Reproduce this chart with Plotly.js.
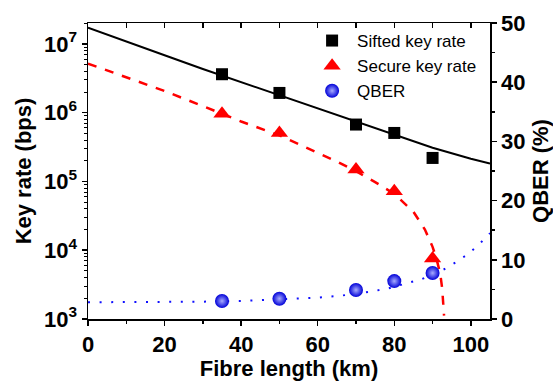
<!DOCTYPE html>
<html><head><meta charset="utf-8">
<script src="https://cdn.plot.ly/plotly-3.0.1.min.js"></script>
<style>html,body{margin:0;padding:0;background:#fff}#chart{width:553px;height:381px}</style>
</head><body><div id="chart"></div>
<script>
// Measured points
const pointLengths = [35, 50, 70, 80, 90];
const siftedRate = [3.63e6, 1.94e6, 6.73e5, 5.08e5, 2.2e5];
const secureRate = [9.7e5, 5.08e5, 1.49e5, 7.2e4, 7.6e3];
const qberMeasured = [3.04, 3.43, 4.9, 6.4, 7.77];

// Simulated curves
const siftedCurveX = [0, 10, 20, 30, 40, 50, 60, 70, 80, 90, 100, 105];
const siftedCurveY = [1.73e7, 1.10e7, 6.84e6, 4.32e6, 2.79e6, 1.82e6, 1.175e6, 7.41e5, 4.9e5, 3.09e5, 2.14e5, 1.83e5];
const secureCurveX = [0, 10, 20, 30, 40, 50, 55, 60, 65, 70, 75, 80, 85, 88, 90, 91, 92, 92.5, 93];
const secureCurveY = [5.19e6, 3.24e6, 2.07e6, 1.25e6, 7.46e5, 4.68e5, 3.51e5, 2.63e5, 1.95e5, 1.41e5, 9.8e4, 6.6e4, 3.63e4, 2.0e4, 1.12e4, 7.6e3, 4.57e3, 2.82e3, 1.12e3];
const qberCurveX = [0, 10, 20, 30, 40, 50, 60, 66, 72, 78, 84, 87, 90, 93, 96, 99, 102, 105];
const qberCurveY = [2.83, 2.85, 2.88, 2.93, 3.05, 3.3, 3.6, 3.94, 4.44, 5.1, 6.08, 6.7, 7.45, 8.4, 9.55, 10.85, 12.5, 14.5];

// Left axis tick labels
const logExponents = [3, 4, 5, 6, 7];
const logTickVals = logExponents.map(e => Math.pow(10, e));
const logTickText = logExponents.map(e => '10<sup>' + e + '</sup>');
const minorLogVals = [];
logExponents.forEach(e => { for (let m = 2; m <= 9; m++) minorLogVals.push(m * Math.pow(10, e)); });

const FONT = 'Liberation Sans, Arial, sans-serif';
const tickFont = {family: FONT, size: 22, color: '#000', weight: 'bold'};
const titleFont = {family: FONT, size: 22, color: '#000', weight: 'bold'};

const traces = [
  {x: siftedCurveX, y: siftedCurveY, mode: 'lines', line: {color: '#000', width: 2}, showlegend: false, hoverinfo: 'skip'},
  {x: secureCurveX, y: secureCurveY, mode: 'lines', line: {color: '#ff0000', width: 2.5, dash: '9px,9px'}, showlegend: false, hoverinfo: 'skip'},
  {x: qberCurveX, y: qberCurveY, yaxis: 'y2', mode: 'lines', line: {color: '#1010ff', width: 2, dash: '2px,9.6px'}, showlegend: false, hoverinfo: 'skip'},
  {x: pointLengths, y: siftedRate, mode: 'markers', name: 'Sifted key rate',
   marker: {symbol: 'square', size: 12, color: '#000'}},
  {x: pointLengths, y: secureRate, mode: 'markers', name: 'Secure key rate',
   marker: {symbol: 'triangle-up', size: 15, color: '#ff0000'}},
  {x: pointLengths, y: qberMeasured, yaxis: 'y2', mode: 'markers', name: 'QBER',
   marker: {symbol: 'circle', size: 14, color: '#0000d8', gradient: {type: 'radial', color: '#a8acff'}}},
  {x: [], y: [], xaxis: 'x2', showlegend: false, hoverinfo: 'skip'}
];

const layout = {
  width: 553, height: 381,
  margin: {l: 87.5, r: 63, t: 23, b: 62},
  paper_bgcolor: '#fff', plot_bgcolor: '#fff',
  showlegend: true,
  legend: {x: 0.545, y: 1.0, xanchor: 'left', yanchor: 'top', bgcolor: 'rgba(0,0,0,0)',
           font: {family: FONT, size: 17, color: '#000'}, tracegroupgap: 0, itemwidth: 40},
  xaxis: {range: [0, 105], dtick: 20, tick0: 0, ticks: 'outside', ticklen: 5, tickwidth: 1.5, tickcolor: '#000',
          minor: {dtick: 10, ticks: 'outside', ticklen: 3, tickwidth: 1.5, tickcolor: '#000'},
          showline: true, linecolor: '#000', linewidth: 1.5, mirror: true, showgrid: false, zeroline: false,
          tickfont: tickFont, title: {text: 'Fibre length (km)', font: titleFont, standoff: 4}},
  xaxis2: {overlaying: 'x', side: 'top', anchor: 'y', range: [0, 105], dtick: 10, tick0: 0, ticks: 'inside', ticklen: 5,
           tickwidth: 1.5, tickcolor: '#000', showticklabels: false, showline: false, showgrid: false, zeroline: false},
  yaxis: {type: 'log', range: [3, 7.305], tickmode: 'array', tickvals: logTickVals, ticktext: logTickText,
          ticks: 'outside', ticklen: 5, tickwidth: 1.5, tickcolor: '#000',
          minor: {tickmode: 'array', tickvals: minorLogVals, ticks: 'outside', ticklen: 3, tickwidth: 1, tickcolor: '#000'},
          showline: true, linecolor: '#000', linewidth: 1.5, showgrid: false, zeroline: false,
          tickfont: tickFont, title: {text: 'Key rate (bps)', font: titleFont, standoff: 6}},
  yaxis2: {overlaying: 'y', side: 'right', range: [0, 50], dtick: 10, ticks: 'outside', ticklen: 5, tickwidth: 1.5, tickcolor: '#000',
           minor: {dtick: 5, ticks: 'outside', ticklen: 3, tickwidth: 1.5, tickcolor: '#000'},
           showline: true, linecolor: '#000', linewidth: 1.5, showgrid: false, zeroline: false,
           tickfont: tickFont, title: {text: 'QBER (%)', font: titleFont, standoff: 8}}
};

Plotly.newPlot('chart', traces, layout, {staticPlot: true, displayModeBar: false});
</script>
</body></html>
